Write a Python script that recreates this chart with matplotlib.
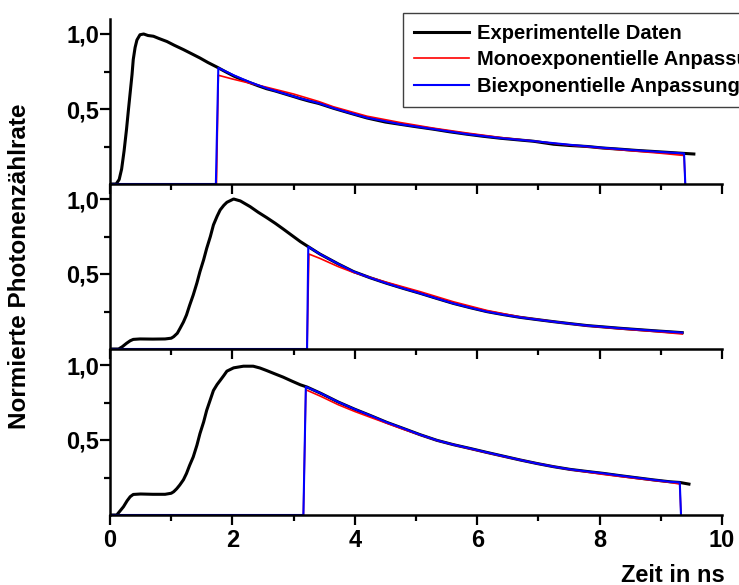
import matplotlib
matplotlib.use("Agg")
import matplotlib.pyplot as plt
from matplotlib.lines import Line2D

plt.rcParams['font.family'] = ['Liberation Sans', 'DejaVu Sans']
plt.rcParams['font.weight'] = 'bold'

# ---------------- data ----------------
# Panel 1 (top)
exp1_x = [0.0, 0.10, 0.15, 0.19, 0.23, 0.27, 0.30, 0.33, 0.36, 0.38, 0.41, 0.44, 0.49, 0.55, 0.62,
          0.71, 0.80, 0.93, 1.05, 1.20, 1.35, 1.47, 1.60, 1.745, 1.88, 2.02, 2.15, 2.29, 2.42, 2.56,
          2.70, 2.83, 3.00, 3.11, 3.25, 3.41, 3.65, 3.90, 4.20, 4.50, 4.74, 5.00, 5.29, 5.55, 5.83,
          6.10, 6.38, 6.70, 6.92, 7.25, 7.50, 7.80, 8.05, 8.34, 8.60, 8.88, 9.15, 9.38, 9.54]
exp1_y = [0.0, 0.0, 0.03, 0.10, 0.22, 0.365, 0.49, 0.61, 0.73, 0.83, 0.91, 0.96, 0.995, 1.0, 0.99,
          0.985, 0.97, 0.95, 0.925, 0.896, 0.865, 0.84, 0.81, 0.78, 0.75, 0.72, 0.697, 0.675, 0.655, 0.635,
          0.62, 0.604, 0.583, 0.569, 0.553, 0.537, 0.505, 0.475, 0.44, 0.413, 0.398, 0.382, 0.365, 0.348, 0.332,
          0.318, 0.305, 0.293, 0.285, 0.265, 0.257, 0.25, 0.24, 0.232, 0.224, 0.217, 0.21, 0.204, 0.2]
mono1_x = [0.0, 1.74, 1.77, 2.00, 2.56, 3.00, 3.41, 3.65, 4.20, 4.74, 5.29, 5.83, 6.38, 6.92, 7.50,
           8.00, 8.50, 9.00, 9.38, 9.40]
mono1_y = [0.0, 0.0, 0.725, 0.70, 0.645, 0.60, 0.55, 0.515, 0.452, 0.41, 0.372, 0.34, 0.31, 0.286, 0.26,
           0.24, 0.222, 0.205, 0.19, 0.0]
bi1_x = [0.0, 1.73, 1.77, 2.02, 2.29, 2.56, 2.83, 3.11, 3.41, 3.65, 3.90, 4.20, 4.74, 5.29, 5.83,
         6.38, 6.92, 7.50, 8.00, 8.50, 9.00, 9.38, 9.40]
bi1_y = [0.0, 0.0, 0.774, 0.725, 0.678, 0.638, 0.605, 0.571, 0.539, 0.506, 0.476, 0.442, 0.399, 0.366, 0.333,
         0.306, 0.286, 0.262, 0.243, 0.227, 0.213, 0.204, 0.0]

# Panel 2 (middle)
exp2_x = [0.0, 0.14, 0.20, 0.27, 0.33, 0.38, 0.49, 0.70, 0.90, 1.00, 1.04, 1.10, 1.145, 1.20, 1.25,
          1.30, 1.36, 1.42, 1.47, 1.53, 1.58, 1.64, 1.69, 1.75, 1.80, 1.86, 1.91, 2.02, 2.13, 2.29,
          2.42, 2.56, 2.70, 2.83, 2.97, 3.11, 3.24, 3.43, 3.73, 3.98, 4.25, 4.52, 4.80, 5.07, 5.34,
          5.61, 5.89, 6.16, 6.43, 6.70, 6.98, 7.25, 7.52, 7.80, 8.07, 8.34, 8.61, 8.88, 9.10, 9.35]
exp2_y = [0.0, 0.0, 0.015, 0.038, 0.055, 0.064, 0.067, 0.066, 0.067, 0.072, 0.082, 0.105, 0.138, 0.18, 0.227,
          0.29, 0.36, 0.44, 0.516, 0.595, 0.671, 0.75, 0.827, 0.885, 0.927, 0.958, 0.978, 1.0, 0.987, 0.949,
          0.912, 0.876, 0.838, 0.80, 0.758, 0.716, 0.682, 0.633, 0.567, 0.516, 0.475, 0.438, 0.403, 0.371, 0.337,
          0.304, 0.275, 0.249, 0.229, 0.211, 0.196, 0.182, 0.169, 0.156, 0.147, 0.138, 0.13, 0.122, 0.116, 0.109]
mono2_x = [0.0, 3.22, 3.25, 3.43, 3.73, 3.98, 4.52, 5.07, 5.61, 6.16, 6.70, 7.25, 7.80, 8.34, 8.88, 9.35]
mono2_y = [0.0, 0.0, 0.633, 0.604, 0.549, 0.51, 0.445, 0.382, 0.315, 0.257, 0.214, 0.182, 0.154, 0.134, 0.117, 0.10]
bi2_x = [0.0, 3.22, 3.24, 3.43, 3.73, 3.98, 4.25, 4.52, 4.80, 5.07, 5.34, 5.61, 5.89, 6.16, 6.43,
         6.70, 6.98, 7.25, 7.52, 7.80, 8.07, 8.34, 8.61, 8.88, 9.10, 9.35]
bi2_y = [0.0, 0.0, 0.682, 0.633, 0.567, 0.516, 0.475, 0.438, 0.403, 0.371, 0.337, 0.304, 0.275, 0.249, 0.229,
         0.211, 0.196, 0.182, 0.169, 0.156, 0.147, 0.138, 0.13, 0.122, 0.116, 0.109]

# Panel 3 (bottom)
exp3_x = [0.0, 0.11, 0.16, 0.22, 0.28, 0.33, 0.38, 0.50, 0.70, 0.90, 1.00, 1.04, 1.09, 1.14, 1.20,
          1.25, 1.30, 1.36, 1.42, 1.47, 1.53, 1.58, 1.64, 1.69, 1.75, 1.80, 1.86, 1.91, 2.02, 2.18,
          2.34, 2.45, 2.56, 2.70, 2.83, 2.97, 3.11, 3.22, 3.45, 3.73, 4.00, 4.25, 4.52, 4.80, 5.07,
          5.34, 5.61, 5.89, 6.16, 6.43, 6.70, 6.98, 7.25, 7.52, 7.80, 8.07, 8.34, 8.61, 8.88, 9.16,
          9.31, 9.46]
exp3_y = [0.0, 0.0, 0.025, 0.055, 0.095, 0.122, 0.137, 0.14, 0.138, 0.138, 0.145, 0.155, 0.175, 0.20, 0.235,
          0.277, 0.33, 0.387, 0.465, 0.543, 0.62, 0.698, 0.77, 0.83, 0.87, 0.897, 0.93, 0.959, 0.981, 0.992,
          0.992, 0.98, 0.963, 0.94, 0.919, 0.893, 0.868, 0.853, 0.81, 0.753, 0.705, 0.664, 0.618, 0.576, 0.535,
          0.498, 0.469, 0.443, 0.417, 0.392, 0.367, 0.343, 0.322, 0.304, 0.29, 0.277, 0.262, 0.248, 0.234, 0.221,
          0.217, 0.206]
mono3_x = [0.0, 3.16, 3.20, 3.45, 3.73, 4.00, 4.25, 4.80, 5.34, 5.89, 6.43, 6.98, 7.52, 8.07, 8.61,
           9.16, 9.31, 9.33]
mono3_y = [0.0, 0.0, 0.835, 0.79, 0.735, 0.69, 0.652, 0.57, 0.497, 0.44, 0.39, 0.343, 0.302, 0.27, 0.243,
           0.217, 0.206, 0.0]
bi3_x = [0.0, 3.16, 3.20, 3.45, 3.73, 4.00, 4.25, 4.52, 4.80, 5.07, 5.34, 5.61, 5.89, 6.16, 6.43,
         6.70, 6.98, 7.25, 7.52, 7.80, 8.07, 8.34, 8.61, 8.88, 9.16, 9.31, 9.33]
bi3_y = [0.0, 0.0, 0.855, 0.81, 0.753, 0.705, 0.664, 0.618, 0.576, 0.535, 0.498, 0.469, 0.443, 0.417, 0.392,
         0.367, 0.343, 0.322, 0.304, 0.29, 0.277, 0.262, 0.248, 0.234, 0.221, 0.217, 0.0]

panels = [
    (exp1_x, exp1_y, mono1_x, mono1_y, bi1_x, bi1_y),
    (exp2_x, exp2_y, mono2_x, mono2_y, bi2_x, bi2_y),
    (exp3_x, exp3_y, mono3_x, mono3_y, bi3_x, bi3_y),
]

xticks_major = [0, 2, 4, 6, 8, 10]
xtick_labels = ['0', '2', '4', '6', '8', '10']
xticks_minor = [1, 3, 5, 7, 9]
yticks_major = [0.5, 1.0]
ytick_labels = ['0,5', '1,0']
yticks_minor = [0.25, 0.75]

legend_labels = ['Experimentelle Daten', 'Monoexponentielle Anpassung', 'Biexponentielle Anpassung']
ylabel_text = 'Normierte Photonenzählrate'
xlabel_text = 'Zeit in ns'

# ---------------- figure ----------------
W, H = 739, 585
fig = plt.figure(figsize=(W / 100, H / 100), dpi=100)

left = 110 / W
width = (722 - 110) / W
height = 165 / H
bottoms_px = [184, 349, 515]

axes = []
for i, bpx in enumerate(bottoms_px):
    ax = fig.add_axes([left, (H - bpx) / H, width, height])
    axes.append(ax)
    ex, ey, mx, my, bx, by = panels[i]
    ax.plot(ex, ey, color='black', lw=2.2, solid_joinstyle='round', zorder=2)
    ax.plot(mx, my, color='#ff0000', lw=1.2, zorder=2.1)
    ax.plot(bx, by, color='#0000ff', lw=1.5, zorder=2.2)
    ax.set_xlim(0, 10)
    ax.set_ylim(0, 1.1)
    ax.set_xticks(xticks_major)
    ax.set_xticks(xticks_minor, minor=True)
    ax.set_yticks(yticks_major)
    ax.set_yticklabels(ytick_labels)
    ax.set_yticks(yticks_minor, minor=True)
    if i == 2:
        ax.set_xticklabels(xtick_labels)
    else:
        ax.set_xticklabels([])
    for s in ['top', 'right']:
        ax.spines[s].set_visible(False)
    for s in ['left', 'bottom']:
        ax.spines[s].set_linewidth(1.8)
    ax.tick_params(axis='both', which='major', direction='out', length=7, width=1.6)
    ax.tick_params(axis='both', which='minor', direction='out', length=4, width=1.6)
    ax.tick_params(axis='y', which='major', labelsize=17, pad=1)
    ax.tick_params(axis='x', which='major', labelsize=17, pad=3)
    for lab in ax.get_xticklabels() + ax.get_yticklabels():
        lab.set_fontweight('bold')
    ax.patch.set_alpha(0)

handles = [Line2D([], [], color='black', lw=2.2),
           Line2D([], [], color='#ff0000', lw=1.2),
           Line2D([], [], color='#0000ff', lw=1.5)]
leg = axes[0].legend(handles, legend_labels, loc='upper left',
                     bbox_to_anchor=(403 / W, 1 - 13 / H), bbox_transform=fig.transFigure,
                     prop={'weight': 'bold', 'size': 14.5}, frameon=True, fancybox=False,
                     edgecolor='#404040', framealpha=1, handlelength=2.75, handletextpad=0.35,
                     borderpad=0.55, labelspacing=0.36, borderaxespad=0)
leg.get_frame().set_linewidth(1.0)
leg.set_zorder(10)

fig.text(20 / W, 1 - 266 / H, ylabel_text, rotation=90, ha='center', va='center',
         fontsize=17.5, fontweight='bold')
fig.text(725 / W, 1 - 575 / H, xlabel_text, ha='right', va='center',
         fontsize=17, fontweight='bold')

fig.savefig('out.png', dpi=100)
